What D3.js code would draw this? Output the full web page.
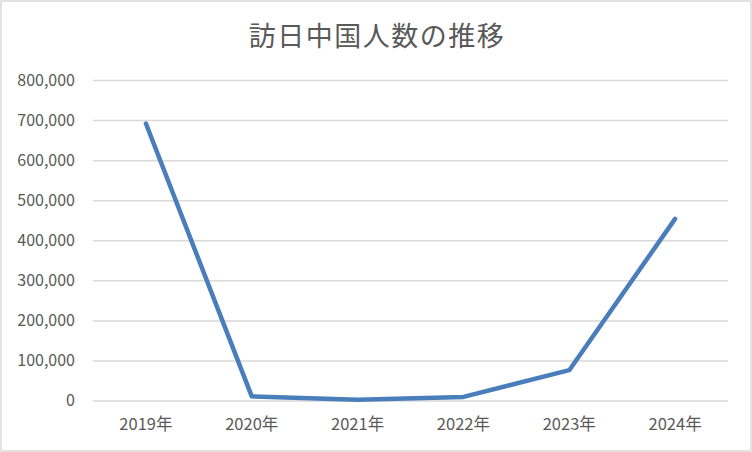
<!DOCTYPE html>
<html><head><meta charset="utf-8">
<script src="https://cdn.jsdelivr.net/npm/d3@7"></script>
<style>
html,body{margin:0;padding:0;background:#fff;}
svg{display:block;}
</style></head>
<body>
<svg id="chart" width="752" height="452"></svg>
<script>
const title = "訪日中国人数の推移";
const categories = ["2019年","2020年","2021年","2022年","2023年","2024年"];
const visitors = [691300, 10400, 2000, 9000, 75700, 453300];
const yTicks = [0,100000,200000,300000,400000,500000,600000,700000,800000];

const W = 752, H = 452;
const margin = {left:93, right:24, top:80, bottom:51.5};
const svg = d3.select("#chart");
const font = "'Noto Sans CJK JP','Noto Sans',sans-serif";
const textColor = "#595959";

svg.append("rect").attr("x",1).attr("y",1).attr("width",W-2).attr("height",H-2)
  .attr("fill","#fff").attr("stroke","#d9d9d9").attr("stroke-width",1.5);

svg.append("text").attr("x",377).attr("y",46).attr("text-anchor","middle")
  .attr("font-family",font).attr("font-size",27).attr("letter-spacing",1.5)
  .attr("fill",textColor).text(title);

const x = d3.scaleBand().domain(categories).range([margin.left, W-margin.right]);
const y = d3.scaleLinear().domain([0,800000]).range([H-margin.bottom, margin.top]);

const yAxis = svg.append("g").attr("transform",`translate(${margin.left},0)`)
  .call(d3.axisLeft(y).tickValues(yTicks).tickFormat(d3.format(",")).tickSize(-(W-margin.left-margin.right)).tickPadding(18));
yAxis.select(".domain").remove();
yAxis.selectAll(".tick line").attr("stroke","#d9d9d9").attr("stroke-width",1.5);
yAxis.selectAll(".tick text").attr("font-family",font).attr("font-size",16).attr("fill",textColor);

const xAxis = svg.append("g").attr("transform",`translate(0,${H-margin.bottom})`)
  .call(d3.axisBottom(x).tickSize(0).tickPadding(18));
xAxis.select(".domain").remove();
xAxis.selectAll(".tick text").attr("font-family",font).attr("font-size",16.5).attr("fill",textColor);

const line = d3.line().x((d,i)=>x(categories[i])+x.bandwidth()/2).y(d=>y(d));
svg.append("path").datum(visitors).attr("d",line).attr("fill","none")
  .attr("stroke","#4a7ebb").attr("stroke-width",4.5).attr("stroke-linejoin","round").attr("stroke-linecap","round");
</script>
</body></html>
